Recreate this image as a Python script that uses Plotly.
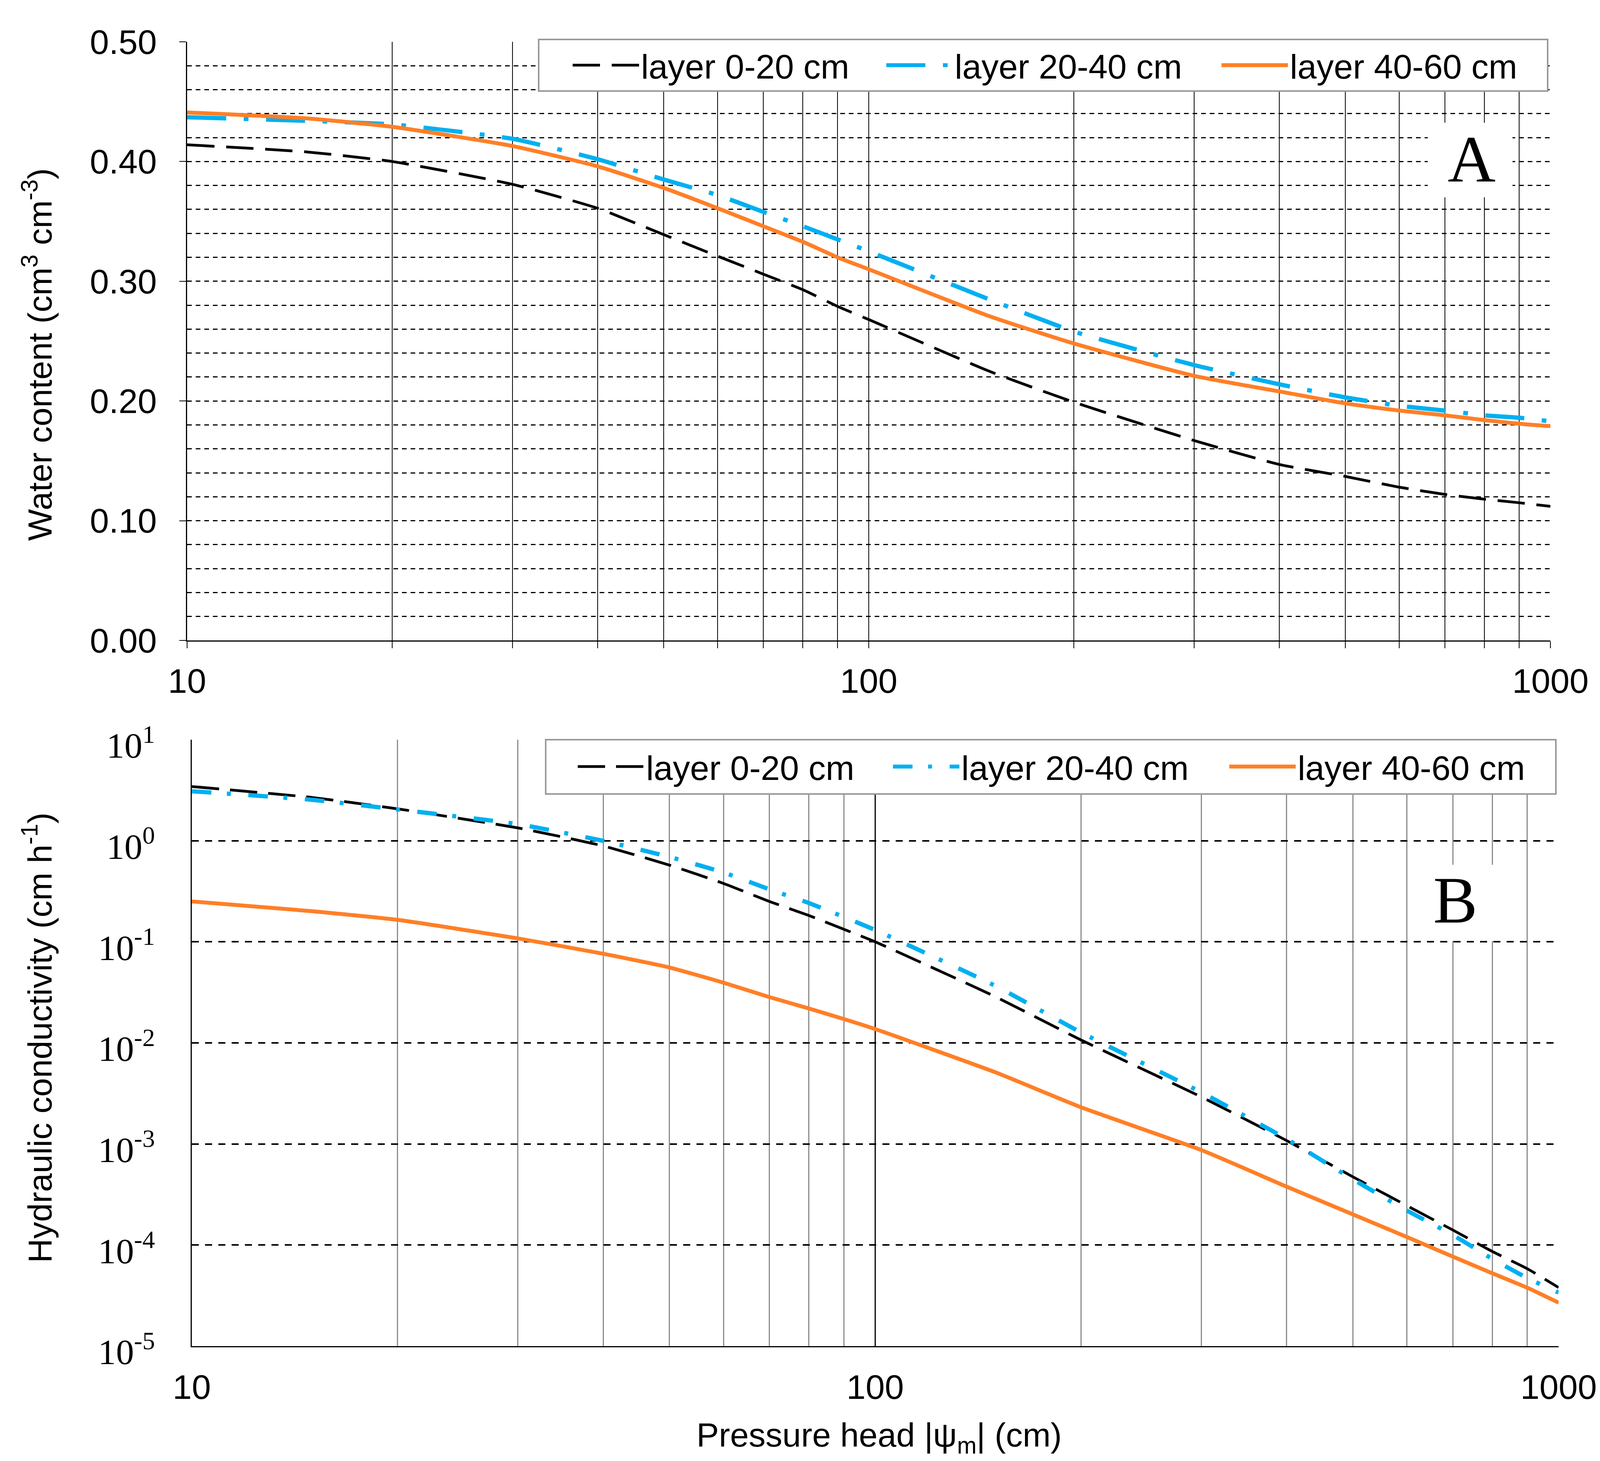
import plotly.graph_objects as go

W, H = 4139, 3739

# ---------------- data ----------------
head_cm = [10, 15, 20, 30, 40, 50, 60, 70, 80, 90, 100,
           150, 200, 300, 400, 500, 600, 700, 800, 900, 1000]

theta_0_20 = [0.414, 0.408, 0.400, 0.381, 0.361, 0.339, 0.321, 0.306, 0.293, 0.279, 0.268,
              0.225, 0.199, 0.167, 0.147, 0.137, 0.128, 0.122, 0.118, 0.115, 0.112]
theta_20_40 = [0.437, 0.434, 0.431, 0.419, 0.402, 0.385, 0.372, 0.358, 0.346, 0.335, 0.325,
               0.285, 0.258, 0.230, 0.214, 0.203, 0.196, 0.192, 0.188, 0.186, 0.183]
theta_40_60 = [0.441, 0.436, 0.429, 0.413, 0.396, 0.378, 0.361, 0.346, 0.333, 0.320, 0.310,
               0.271, 0.248, 0.221, 0.208, 0.198, 0.192, 0.188, 0.184, 0.181, 0.179]

k_0_20 = [3.44, 2.68, 2.07, 1.34, 0.889, 0.574, 0.378, 0.251, 0.182, 0.133, 0.100,
          0.0286, 0.0107, 0.00292, 0.00108, 4.73e-4, 2.45e-4, 1.41e-4, 8.63e-5, 5.83e-5, 3.80e-5]
k_20_40 = [3.09, 2.54, 2.04, 1.46, 0.998, 0.692, 0.485, 0.331, 0.242, 0.176, 0.131,
           0.0366, 0.0127, 0.00324, 0.00112, 4.47e-4, 2.19e-4, 1.26e-4, 7.29e-5, 4.71e-5, 3.39e-5]
k_40_60 = [0.251, 0.201, 0.165, 0.108, 0.0762, 0.0557, 0.0394, 0.0284, 0.0219, 0.0172, 0.0137,
           0.00511, 0.00231, 8.71e-4, 3.78e-4, 2.01e-4, 1.20e-4, 7.69e-5, 5.25e-5, 3.78e-5, 2.69e-5]

layer_names = ["layer 0-20 cm", "layer 20-40 cm", "layer 40-60 cm"]

x_major_vals = [10, 100, 1000]
x_major_text = ["10", "100", "1000"]
x_minor_vals = [20, 30, 40, 50, 60, 70, 80, 90, 200, 300, 400, 500, 600, 700, 800, 900]

theta_tick_vals = [0.0, 0.1, 0.2, 0.3, 0.4, 0.5]
k_tick_vals = [1e-5, 1e-4, 1e-3, 1e-2, 1e-1, 1e0, 1e1]
k_tick_text = ["10<sup>-5</sup>", "10<sup>-4</sup>", "10<sup>-3</sup>", "10<sup>-2</sup>",
               "10<sup>-1</sup>", "10<sup>0</sup>", "10<sup>1</sup>"]

# ---------------- styling ----------------
SANS = "Liberation Sans, Arial, sans-serif"
SERIF = "Liberation Serif, Times New Roman, serif"
BLACK = "#000000"
BLUE = "#00B0F0"
ORANGE = "#FF7F27"


def px(xp):
    return xp / W


def py(yp):
    return 1 - yp / H


fig = go.Figure()

top_styles = [
    dict(color=BLACK, width=7, dash="70px,30px"),
    dict(color=BLUE, width=11, dash="100px,45px,12px,45px"),
    dict(color=ORANGE, width=10, dash="solid"),
]
bot_styles = [
    dict(color=BLACK, width=7, dash="70px,28px"),
    dict(color=BLUE, width=11, dash="50px,40px,10px,45px"),
    dict(color=ORANGE, width=10, dash="solid"),
]

top_series = [theta_0_20, theta_20_40, theta_40_60]
bot_series = [k_0_20, k_20_40, k_40_60]

for i, (ys, st) in enumerate(zip(top_series, top_styles)):
    fig.add_trace(go.Scatter(x=head_cm, y=ys, mode="lines", name=layer_names[i],
                             line=dict(st, shape="spline", smoothing=0.5),
                             xaxis="x", yaxis="y",
                             legend="legend" if i == 0 else f"legend{i + 1}"))
for i, (ys, st) in enumerate(zip(bot_series, bot_styles)):
    fig.add_trace(go.Scatter(x=head_cm, y=ys, mode="lines", name=layer_names[i],
                             line=dict(st, shape="spline", smoothing=0.5),
                             xaxis="x2", yaxis="y2",
                             legend=f"legend{i + 4}"))

# legend item positions (symbol start x, vertical centre) in pixels
top_leg_x = [1461, 2264, 3122]
bot_leg_x = [1474, 2281, 3142]
top_leg_y = 167
bot_leg_y = 1962


def legend_cfg(xp, yp):
    return dict(x=px(xp), xanchor="left", y=py(yp), yanchor="middle",
                orientation="h", bgcolor="rgba(0,0,0,0)", borderwidth=0,
                font=dict(family=SANS, size=88, color=BLACK), itemwidth=170)


legends = {}
for i in range(3):
    key = "legend" if i == 0 else f"legend{i + 1}"
    legends[key] = legend_cfg(top_leg_x[i], top_leg_y)
for i in range(3):
    legends[f"legend{i + 4}"] = legend_cfg(bot_leg_x[i], bot_leg_y)

tick_font = dict(family=SANS, size=88, color=BLACK)

fig.update_layout(
    width=W, height=H,
    margin=dict(l=0, r=0, t=0, b=0, pad=0, autoexpand=False),
    paper_bgcolor="white", plot_bgcolor="white",
    showlegend=True,
    xaxis=dict(
        domain=[px(479), px(3969)], anchor="y", type="log", range=[1, 3],
        tickvals=x_major_vals, ticktext=x_major_text, tickfont=tick_font,
        ticks="outside", ticklen=17, tickwidth=2, tickcolor=BLACK,
        showgrid=True, gridcolor=BLACK, gridwidth=2,
        minor=dict(tickvals=x_minor_vals, ticks="outside", ticklen=17, tickwidth=2,
                   tickcolor=BLACK, showgrid=True, gridcolor=BLACK, gridwidth=2),
        showline=True, linecolor=BLACK, linewidth=3, zeroline=False,
        ticklabelstandoff=8, automargin=False,
    ),
    yaxis=dict(
        domain=[py(1639), py(107)], anchor="x", range=[0, 0.5],
        tickvals=theta_tick_vals, tickformat=".2f", tickfont=tick_font,
        ticks="outside", ticklen=17, tickwidth=2, tickcolor=BLACK,
        showgrid=True, gridcolor=BLACK, gridwidth=3, griddash="12px,10px",
        minor=dict(dtick=0.02, ticks="", showgrid=True, gridcolor=BLACK,
                   gridwidth=3, griddash="12px,10px"),
        showline=True, linecolor=BLACK, linewidth=3, zeroline=False,
        ticklabelstandoff=40, automargin=False,
    ),
    xaxis2=dict(
        domain=[px(491), px(3990)], anchor="y2", type="log", range=[1, 3],
        tickvals=x_major_vals, ticktext=x_major_text, tickfont=tick_font,
        ticks="", showgrid=True, gridcolor=BLACK, gridwidth=3,
        minor=dict(tickvals=x_minor_vals, ticks="", showgrid=True,
                   gridcolor="#8c8c8c", gridwidth=3),
        showline=True, linecolor=BLACK, linewidth=3, zeroline=False,
        ticklabelstandoff=26, automargin=False,
    ),
    yaxis2=dict(
        domain=[py(3445), py(1893)], anchor="x2", type="log", range=[-5, 1],
        tickvals=k_tick_vals, ticktext=k_tick_text,
        tickfont=dict(family=SERIF, size=92, color=BLACK),
        ticks="", showgrid=True, gridcolor=BLACK, gridwidth=4, griddash="18px,16px",
        showline=True, linecolor=BLACK, linewidth=3, zeroline=False,
        ticklabelstandoff=73, ticklabelshift=14, automargin=False,
    ),
    **legends,
)

# legend frames and letter backgrounds (decorations)
shapes = [
    dict(type="rect", xref="paper", yref="paper", x0=px(1379), x1=px(3962), y0=py(233), y1=py(101),
         fillcolor="white", line=dict(color="#9a9a9a", width=4), layer="above"),
    dict(type="rect", xref="paper", yref="paper", x0=px(1397), x1=px(3983), y0=py(2032), y1=py(1893),
         fillcolor="white", line=dict(color="#9a9a9a", width=4), layer="above"),
    dict(type="rect", xref="paper", yref="paper", x0=px(3655), x1=px(3872), y0=py(505), y1=py(314),
         fillcolor="white", line=dict(width=0), layer="above"),
    dict(type="rect", xref="paper", yref="paper", x0=px(3640), x1=px(3890), y0=py(2408), y1=py(2213),
         fillcolor="white", line=dict(width=0), layer="above"),
]
fig.update_layout(shapes=shapes)

annotations = [
    dict(text="A", x=px(3767), y=py(408), xref="paper", yref="paper", showarrow=False,
         xanchor="center", yanchor="middle", font=dict(family=SERIF, size=170, color=BLACK)),
    dict(text="B", x=px(3725), y=py(2304), xref="paper", yref="paper", showarrow=False,
         xanchor="center", yanchor="middle", font=dict(family=SERIF, size=170, color=BLACK)),
    dict(text="Water content (cm<sup>3</sup> cm<sup>-3</sup>)", x=px(96), y=py(907),
         xref="paper", yref="paper", showarrow=False, textangle=-90,
         xanchor="center", yanchor="middle", font=dict(family=SANS, size=86, color=BLACK)),
    dict(text="Hydraulic conductivity (cm h<sup>-1</sup>)", x=px(96), y=py(2656),
         xref="paper", yref="paper", showarrow=False, textangle=-90,
         xanchor="center", yanchor="middle", font=dict(family=SANS, size=86, color=BLACK)),
    dict(text="Pressure head |\u03c8<sub>m</sub>| (cm)", x=px(2250), y=py(3678),
         xref="paper", yref="paper", showarrow=False,
         xanchor="center", yanchor="middle", font=dict(family=SANS, size=86, color=BLACK)),
]
fig.update_layout(annotations=annotations)

fig.write_html("out.html", config={"displayModeBar": False},
               post_script="document.body.style.margin='0';")
